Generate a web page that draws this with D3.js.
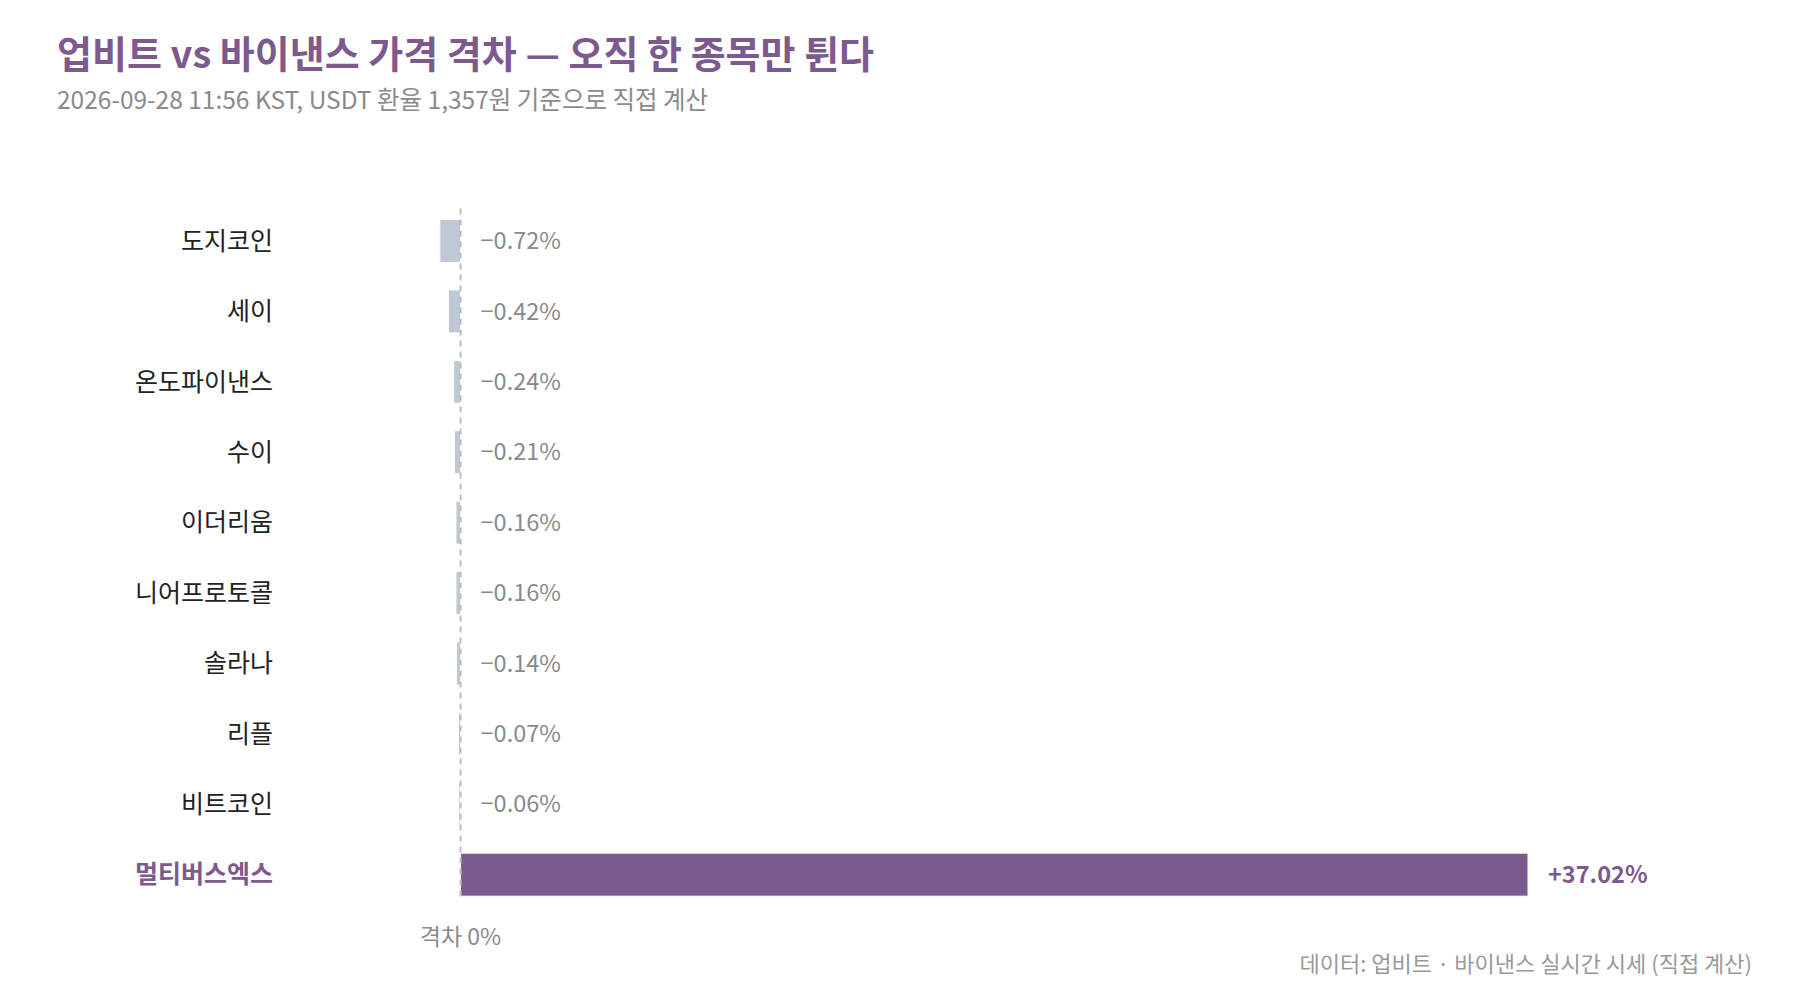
<!DOCTYPE html>
<html><head><meta charset="utf-8">
<script src="https://cdn.jsdelivr.net/npm/d3@7"></script>
<style>
html,body{margin:0;padding:0;background:#fff;}
svg{display:block;font-family:"Noto Sans CJK KR","Noto Sans",sans-serif;}
</style></head>
<body>
<svg id="chart" width="1800" height="1000"></svg>
<script>
const coins = ["도지코인","세이","온도파이낸스","수이","이더리움","니어프로토콜","솔라나","리플","비트코인","멀티버스엑스"];
const gaps = [-0.72,-0.42,-0.24,-0.21,-0.16,-0.16,-0.14,-0.07,-0.06,37.02];
const highlight = "멀티버스엑스";
const titleText = "업비트 vs 바이낸스 가격 격차 — 오직 한 종목만 튄다";
const subtitleText = "2026-09-28 11:56 KST, USDT 환율 1,357원 기준으로 직접 계산";
const axisLabel = "격차 0%";
const sourceText = "데이터: 업비트 · 바이낸스 실시간 시세 (직접 계산)";

const data = coins.map((c,i)=>({name:c, v:gaps[i]}));
const purple = "#7d5a8d", grey = "#bfc9d6";
const svg = d3.select("#chart");

const x = d3.scaleLinear().domain([d3.min(gaps), d3.max(gaps)]).range([439.8, 1528]);
const y = d3.scaleBand().domain(coins).range([198.4, 917.3]).paddingInner(0.389).paddingOuter(0.3);

svg.append("text").attr("x",57).attr("y",68).attr("fill",purple)
  .attr("font-size",38).attr("font-weight",700).text(titleText);
svg.append("text").attr("x",57).attr("y",109).attr("fill","#8a8a8a")
  .attr("font-size",24.5).text(subtitleText);

// bars
svg.append("g").selectAll("rect").data(data).join("rect")
  .attr("x", d=>Math.min(x(0), x(d.v)))
  .attr("y", d=>y(d.name))
  .attr("width", d=>Math.abs(x(d.v)-x(0)))
  .attr("height", y.bandwidth())
  .attr("fill", d=>d.name===highlight?purple:grey)
  .attr("stroke","#fff").attr("stroke-width",1);

// zero line
svg.append("line")
  .attr("x1",x(0)).attr("x2",x(0))
  .attr("y1",y(coins[0])-11).attr("y2",y(coins[coins.length-1])+y.bandwidth()+5)
  .attr("stroke","#bdbdbd").attr("stroke-width",2).attr("stroke-dasharray","6,5");

// category labels
svg.append("g").selectAll("text").data(data).join("text")
  .attr("x",273).attr("y",d=>y(d.name)+y.bandwidth()/2)
  .attr("dy","0.35em").attr("text-anchor","end")
  .attr("font-size",25)
  .attr("font-weight",d=>d.name===highlight?700:400)
  .attr("fill",d=>d.name===highlight?purple:"#222")
  .text(d=>d.name);

// value labels
const fmt = v => (v>0?"+":"\u2212") + Math.abs(v).toFixed(2) + "%";
svg.append("g").selectAll("text").data(data).join("text")
  .attr("x",d=>Math.max(x(0),x(d.v))+20)
  .attr("y",d=>y(d.name)+y.bandwidth()/2)
  .attr("dy","0.35em")
  .attr("font-size",23.5)
  .attr("font-weight",d=>d.name===highlight?700:400)
  .attr("fill",d=>d.name===highlight?purple:"#8a8a8a")
  .text(d=>fmt(d.v));

svg.append("text").attr("x",x(0)).attr("y",945).attr("text-anchor","middle")
  .attr("font-size",23).attr("fill","#8a8a8a").text(axisLabel);

svg.append("text").attr("x",1752).attr("y",972).attr("text-anchor","end")
  .attr("font-size",22).attr("fill","#999").text(sourceText);
</script>
</body></html>
